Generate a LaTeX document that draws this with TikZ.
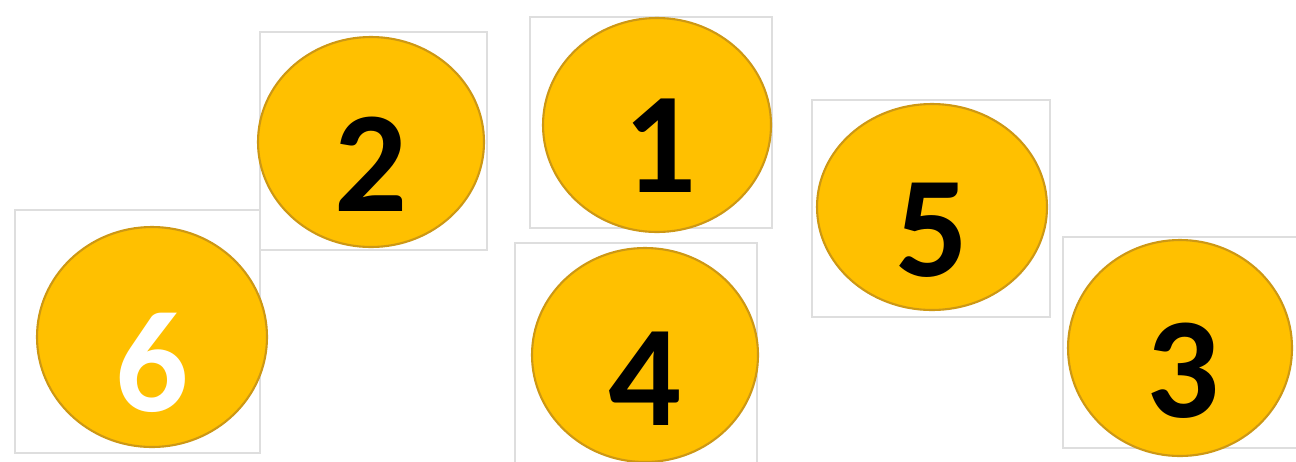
\documentclass[tikz,border=0pt]{standalone}
\usepackage{fontspec}
\setmainfont{Carlito}
\usepackage{xcolor}
\usepackage{tikz}
\usetikzlibrary{positioning, shapes.geometric}
\definecolor{gold}{RGB}{255,192,0}
\definecolor{goldline}{RGB}{205,152,20}

\begin{document}
\begin{tikzpicture}[x=0.1mm, y=-0.1mm,
  card/.style={draw=black!13, line width=0.7pt, fill=white, inner sep=0pt},
  disc/.style={ellipse, fill=gold, draw=goldline, line width=0.6pt, inner sep=0pt},
  digit/.style={font=\fontsize{41}{41}\selectfont\bfseries, inner sep=0pt}]
\path[use as bounding box, fill=white] (0,0) rectangle (1296,461);

% Cards
\node[card, minimum width=24.5mm, minimum height=24.3mm] (card6) at (137.5,331.5) {};
\node[card, minimum width=22.7mm, minimum height=21.8mm] (card2) at (373.5,141) {};
\node[card, minimum width=24.2mm, minimum height=21.1mm] (card1) at (651,122.5) {};
\node[card, minimum width=24.2mm, minimum height=22.7mm] (card4) at (636,356.5) {};
\node[card, minimum width=23.8mm, minimum height=21.7mm] (card5) at (931,208.5) {};
\node[card, minimum width=23.5mm, minimum height=21.1mm] (card3) at (1180.5,342.5) {};

% Discs
\node[disc, minimum width=23mm, minimum height=22mm] (disc6) at (152,337) {};
\node[disc, minimum width=22.6mm, minimum height=21mm] (disc2) at (371,142) {};
\node[disc, minimum width=22.8mm, minimum height=21.4mm] (disc1) at (657,125) {};
\node[disc, minimum width=22.6mm, minimum height=21.4mm] (disc4) at (645,355) {};
\node[disc, minimum width=23mm, minimum height=20.6mm] (disc5) at (932,207) {};
\node[disc, minimum width=22.4mm, minimum height=21.6mm] (disc3) at (1180,348) {};

% Numbers
\node[digit, text=white] (num6) at ([yshift=-2.6mm]disc6.center) {6};
\node[digit] (num2) at ([yshift=-2.2mm]disc2.center) {2};
\node[digit] (num1) at ([xshift=0.3mm, yshift=-2.1mm]disc1.center) {1};
\node[digit] (num4) at ([yshift=-2.4mm]disc4.center) {4};
\node[digit] (num5) at ([yshift=-2.3mm]disc5.center) {5};
\node[digit] (num3) at ([xshift=0.3mm, yshift=-2.3mm]disc3.center) {3};

\end{tikzpicture}
\end{document}
